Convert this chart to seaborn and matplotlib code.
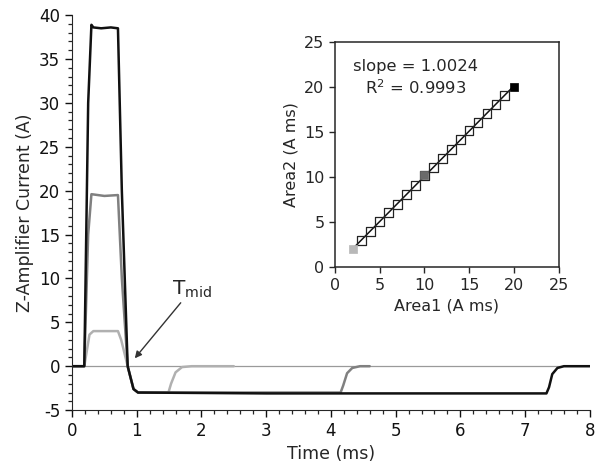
import numpy as np
import pandas as pd
import matplotlib
matplotlib.use("Agg")
import matplotlib.pyplot as plt
import seaborn as sns
from matplotlib.ticker import MultipleLocator

# Waveform breakpoints (time in ms, current in A)
t_high = [0.0, 0.19, 0.25, 0.30, 0.33, 0.45, 0.6, 0.71, 0.77, 0.86, 0.95, 1.02, 3.0, 7.33, 7.37, 7.42, 7.5, 7.6, 8.0]
i_high = [0.0, 0.0, 30.0, 38.9, 38.6, 38.5, 38.6, 38.5, 20.0, 0.0, -2.6, -3.0, -3.1, -3.1, -2.4, -0.9, -0.2, 0.0, 0.0]

t_mid = [0.0, 0.19, 0.25, 0.30, 0.5, 0.71, 0.77, 0.86, 0.95, 1.02, 2.5, 4.15, 4.19, 4.25, 4.33, 4.45, 4.6]
i_mid = [0.0, 0.0, 15.0, 19.6, 19.4, 19.5, 10.0, 0.0, -2.6, -3.0, -3.0, -3.0, -2.2, -0.8, -0.2, 0.0, 0.0]

t_low = [0.0, 0.19, 0.27, 0.33, 0.55, 0.71, 0.76, 0.86, 0.95, 1.02, 1.49, 1.53, 1.6, 1.7, 1.85, 2.5]
i_low = [0.0, 0.0, 3.6, 4.0, 4.0, 4.0, 3.0, 0.0, -2.6, -3.0, -3.0, -2.0, -0.7, -0.1, 0.0, 0.0]

# Inset: areas before / after
area1 = [2, 3, 4, 5, 6, 7, 8, 9, 10, 11, 12, 13, 14, 15, 16, 17, 18, 19, 20]
area2 = [2.0, 3.0, 4.0, 5.1, 6.1, 7.0, 8.1, 9.1, 10.2, 11.1, 12.1, 13.1, 14.2, 15.2, 16.1, 17.1, 18.1, 19.1, 20.0]

sns.set_style("ticks")
plt.rcParams["font.family"] = ["DejaVu Sans"]
plt.rcParams["axes.unicode_minus"] = False

fig = plt.figure(figsize=(6.0, 4.73), dpi=100)
ax = fig.add_axes([0.12, 0.133, 0.863, 0.835])

ax.axhline(0, color="#9a9a9a", lw=0.9, zorder=1)

curves = [
    (t_low, i_low, "#b0b0b0"),
    (t_mid, i_mid, "#808080"),
    (t_high, i_high, "#111111"),
]
for t, i, c in curves:
    df = pd.DataFrame({"t": t, "i": i})
    sns.lineplot(data=df, x="t", y="i", color=c, lw=1.8, ax=ax, sort=False)

ax.set_xlim(0, 8)
ax.set_ylim(-5, 40)
ax.xaxis.set_major_locator(MultipleLocator(1))
ax.xaxis.set_minor_locator(MultipleLocator(0.2))
ax.yaxis.set_major_locator(MultipleLocator(5))
ax.yaxis.set_minor_locator(MultipleLocator(1))
ax.tick_params(which="major", length=5, width=1, labelsize=12, colors="#111111")
ax.tick_params(which="minor", length=3, width=0.9)
sns.despine(ax=ax)
ax.set_xlabel("Time (ms)", fontsize=12.5)
ax.set_ylabel("Z-Amplifier Current (A)", fontsize=12.5)

ax.annotate("T$_{\\mathregular{mid}}$", xy=(0.97, 0.9), xytext=(1.55, 7.6),
            fontsize=14.5, ha="left", va="bottom",
            arrowprops=dict(arrowstyle="-|>", color="#333333", lw=1.0,
                            shrinkA=0, shrinkB=0, mutation_scale=10))

# Inset
ins = fig.add_axes([0.558, 0.435, 0.373, 0.476])
slope, intercept = np.polyfit(area1, area2, 1)
fit_x = np.array([area1[0], area1[-1]])
sns.lineplot(x=fit_x, y=slope * fit_x + intercept, color="#111111", lw=1.1, ax=ins)
sns.scatterplot(x=area1[1:-1], y=area2[1:-1], marker="s", s=40, facecolor="none",
                edgecolor="#222222", linewidth=0.9, ax=ins, zorder=3)
idx = area1.index(10)
sns.scatterplot(x=[area1[0]], y=[area2[0]], marker="s", s=40, color="#b8b8b8",
                edgecolor="#b8b8b8", ax=ins, zorder=4)
sns.scatterplot(x=[area1[idx]], y=[area2[idx]], marker="s", s=40, color="#6a6a6a",
                edgecolor="#6a6a6a", ax=ins, zorder=4)
sns.scatterplot(x=[area1[-1]], y=[area2[-1]], marker="s", s=40, color="#000000",
                edgecolor="#000000", ax=ins, zorder=4)
ins.set_xlim(0, 25)
ins.set_ylim(0, 25)
ins.xaxis.set_major_locator(MultipleLocator(5))
ins.yaxis.set_major_locator(MultipleLocator(5))
ins.tick_params(length=4, width=1, labelsize=11.5)
for s in ins.spines.values():
    s.set_linewidth(1.1)
ins.set_xlabel("Area1 (A ms)", fontsize=11.5)
ins.set_ylabel("Area2 (A ms)", fontsize=11.5)
ins.text(2.0, 22.3, "slope = 1.0024", fontsize=11.8, ha="left", va="center")
ins.text(3.4, 19.9, "R$^{\\mathregular{2}}$ = 0.9993", fontsize=11.8, ha="left", va="center")

fig.savefig("out.png", dpi=100)
